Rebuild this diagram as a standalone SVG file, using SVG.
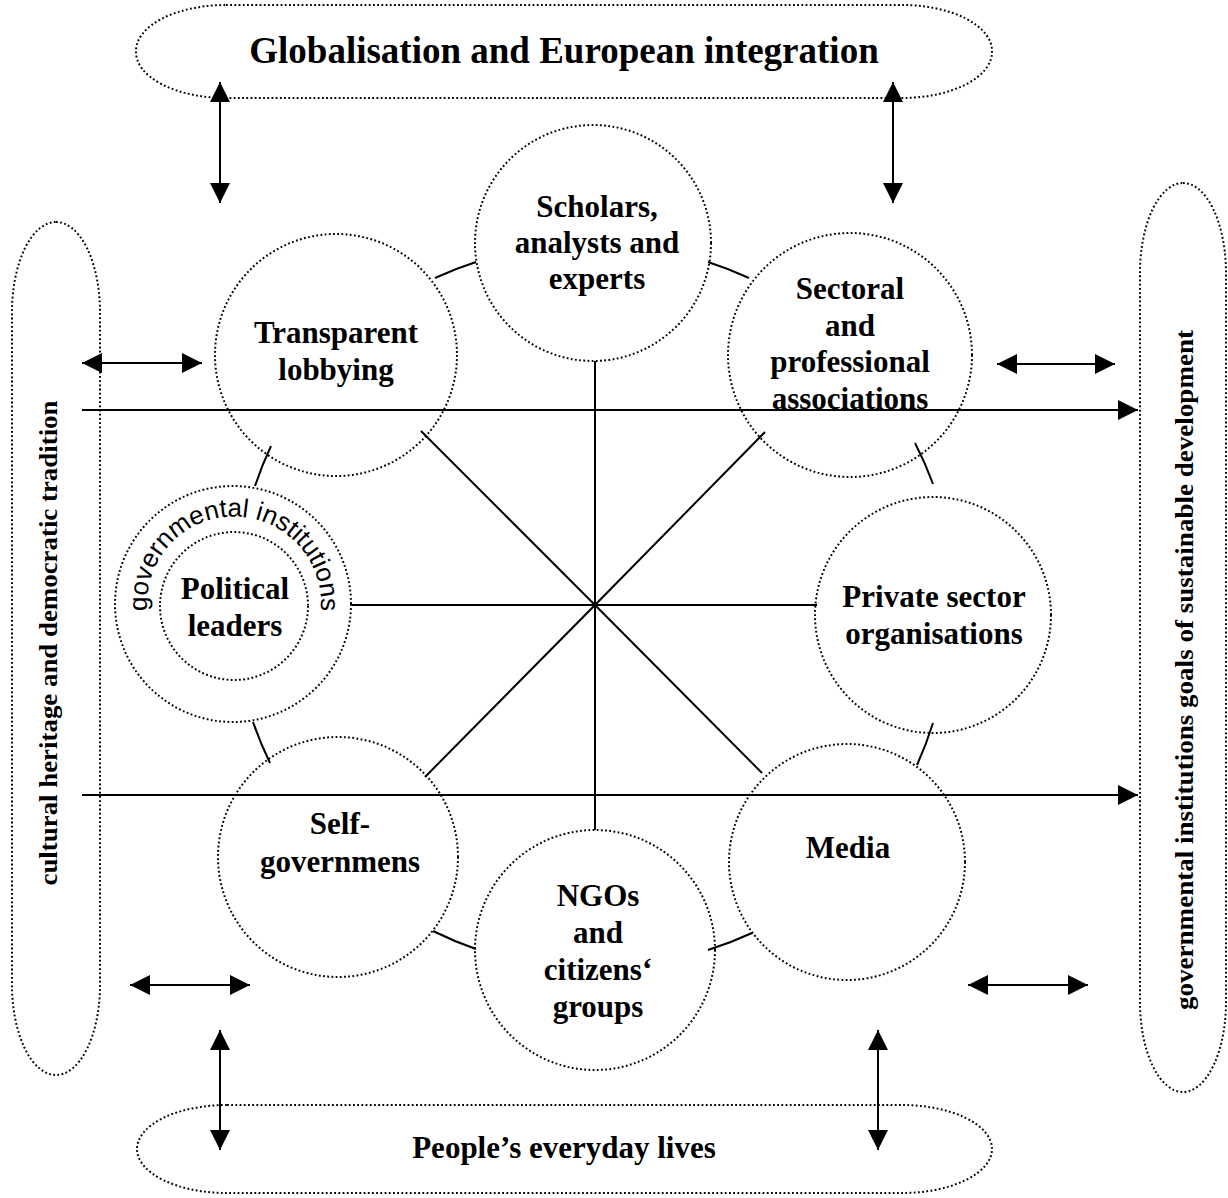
<svg xmlns="http://www.w3.org/2000/svg" width="1228" height="1198" viewBox="0 0 1228 1198">
<style>
.dot{fill:none;stroke:#000;stroke-width:2;stroke-dasharray:1.8 2.4}
.ln{fill:none;stroke:#000;stroke-width:2}
.lbl{font-family:"Liberation Serif","Times New Roman",serif;font-weight:bold;font-size:31px;text-anchor:middle;fill:#000}
.side{font-family:"Liberation Serif","Times New Roman",serif;font-weight:bold;font-size:26px;text-anchor:middle;fill:#000}
</style>
<defs>
<marker id="ah" markerUnits="userSpaceOnUse" markerWidth="20" markerHeight="20" refX="20" refY="10" orient="auto-start-reverse">
<path d="M0,0 L20,10 L0,20 z" fill="#000"/>
</marker>
<path id="arcgi" d="M 148.6 620.2 A 87 87 0 1 1 319.4 620.2"/>
</defs>
<rect width="1228" height="1198" fill="#fff"/>

<g id="context-top">
<rect class="dot" x="136" y="5" width="856" height="93" rx="90" ry="46"/>
<text x="564" y="63" class="lbl" style="font-size:37px">Globalisation and European integration</text>
</g>
<g id="context-bottom">
<rect class="dot" x="137" y="1105" width="855" height="88" rx="90" ry="44"/>
<text x="564" y="1158" class="lbl">People’s everyday lives</text>
</g>
<g id="context-left">
<rect class="dot" x="12" y="222" width="88" height="853" rx="44" ry="90"/>
<text class="side" transform="translate(57,643) rotate(-90)" textLength="485" lengthAdjust="spacingAndGlyphs">cultural heritage and democratic tradition</text>
</g>
<g id="context-right">
<rect class="dot" x="1140" y="183" width="86" height="909" rx="43" ry="90"/>
<text class="side" transform="translate(1193,670) rotate(-90)" textLength="680" lengthAdjust="spacingAndGlyphs">governmental institutions goals of sustainable development</text>
</g>

<g id="connectors">
<line class="ln" x1="595" y1="605" x2="595" y2="361"/>
<line class="ln" x1="595" y1="605" x2="595" y2="830"/>
<line class="ln" x1="595" y1="605" x2="352" y2="605"/>
<line class="ln" x1="595" y1="605" x2="817" y2="605"/>
<line class="ln" x1="595" y1="605" x2="421" y2="431"/>
<line class="ln" x1="595" y1="605" x2="765" y2="432"/>
<line class="ln" x1="595" y1="605" x2="425" y2="777"/>
<line class="ln" x1="595" y1="605" x2="762" y2="773"/>
<path class="ln" d="M435,278 A362,362 0 0 1 476,262"/>
<path class="ln" d="M708,262 A362,362 0 0 1 749,278"/>
<path class="ln" d="M915,443 A362,362 0 0 1 933,484"/>
<path class="ln" d="M933,723 A362,362 0 0 1 917,765"/>
<path class="ln" d="M752,933 A362,362 0 0 1 708,950"/>
<path class="ln" d="M476,949 A362,362 0 0 1 433,931"/>
<path class="ln" d="M270,763 A362,362 0 0 1 253,722"/>
<path class="ln" d="M255,486 A362,362 0 0 1 271,446"/>
<line class="ln" x1="82" y1="410" x2="1138" y2="410" marker-end="url(#ah)"/>
<line class="ln" x1="82" y1="795" x2="1138" y2="795" marker-end="url(#ah)"/>
<line class="ln" x1="220" y1="82" x2="220" y2="203" marker-start="url(#ah)" marker-end="url(#ah)"/>
<line class="ln" x1="893" y1="82" x2="893" y2="203" marker-start="url(#ah)" marker-end="url(#ah)"/>
<line class="ln" x1="220" y1="1030" x2="220" y2="1150" marker-start="url(#ah)" marker-end="url(#ah)"/>
<line class="ln" x1="878" y1="1030" x2="878" y2="1150" marker-start="url(#ah)" marker-end="url(#ah)"/>
<line class="ln" x1="82" y1="363" x2="202" y2="363" marker-start="url(#ah)" marker-end="url(#ah)"/>
<line class="ln" x1="997" y1="364" x2="1115" y2="364" marker-start="url(#ah)" marker-end="url(#ah)"/>
<line class="ln" x1="130" y1="985" x2="250" y2="985" marker-start="url(#ah)" marker-end="url(#ah)"/>
<line class="ln" x1="968" y1="985" x2="1088" y2="985" marker-start="url(#ah)" marker-end="url(#ah)"/>
</g>

<g id="scholars">
<circle class="dot" cx="593" cy="243" r="118"/>
<text class="lbl"><tspan x="597" y="217">Scholars,</tspan><tspan x="597" y="253">analysts and</tspan><tspan x="597" y="289">experts</tspan></text>
</g>
<g id="sectoral">
<circle class="dot" cx="850" cy="355" r="122"/>
<text class="lbl"><tspan x="850" y="299">Sectoral</tspan><tspan x="850" y="336">and</tspan><tspan x="850" y="372">professional</tspan><tspan x="850" y="409">associations</tspan></text>
</g>
<g id="private">
<circle class="dot" cx="933" cy="615" r="118"/>
<text class="lbl"><tspan x="934" y="607">Private sector</tspan><tspan x="934" y="644">organisations</tspan></text>
</g>
<g id="media">
<circle class="dot" cx="847" cy="862" r="118"/>
<text class="lbl" x="848" y="858">Media</text>
</g>
<g id="ngos">
<circle class="dot" cx="595" cy="950" r="120"/>
<text class="lbl"><tspan x="598" y="906">NGOs</tspan><tspan x="598" y="943">and</tspan><tspan x="598" y="980">citizens‘</tspan><tspan x="598" y="1017">groups</tspan></text>
</g>
<g id="self">
<circle class="dot" cx="338" cy="857" r="120"/>
<text class="lbl"><tspan x="340" y="834">Self-</tspan><tspan x="340" y="872">governmens</tspan></text>
</g>
<g id="political">
<circle class="dot" cx="233" cy="604" r="118"/>
<circle class="dot" cx="234" cy="606" r="74"/>
<text style="font-family:'Liberation Sans',Arial,sans-serif;font-size:26px;fill:#000" text-anchor="middle"><textPath href="#arcgi" startOffset="50%">governmental institutions</textPath></text>
<text class="lbl"><tspan x="235" y="599">Political</tspan><tspan x="235" y="636">leaders</tspan></text>
</g>
<g id="transparent">
<circle class="dot" cx="336" cy="355" r="121"/>
<text class="lbl"><tspan x="336" y="343">Transparent</tspan><tspan x="336" y="380">lobbying</tspan></text>
</g>
</svg>
